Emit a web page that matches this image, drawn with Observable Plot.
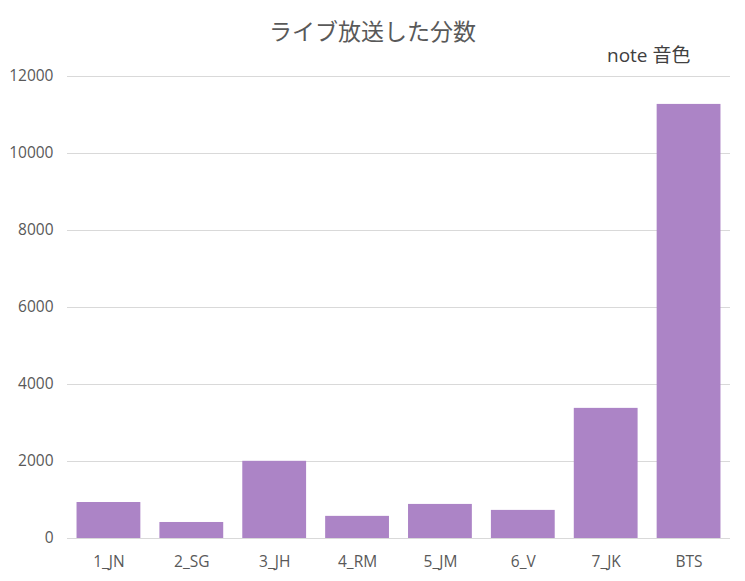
<!DOCTYPE html>
<html>
<head>
<meta charset="utf-8">
<script src="https://cdn.jsdelivr.net/npm/d3@7"></script>
<script src="https://cdn.jsdelivr.net/npm/@observablehq/plot@0.6"></script>
<style>
  html, body { margin: 0; padding: 0; background: #fff; }
  #wrap { position: relative; width: 745px; height: 581px; font-family: "Open Sans", "Noto Sans CJK JP", sans-serif; }
  #title { position: absolute; left: 0; width: 745px; top: 13px; text-align: center; font-size: 23px; color: #595959; font-family: "Noto Sans CJK JP", sans-serif; }
  #note { position: absolute; left: 607px; top: 40px; font-size: 19px; color: #404040; font-family: "Open Sans", "Noto Sans CJK JP", sans-serif; }
</style>
</head>
<body>
<div id="wrap">
  <div id="chart"></div>
  <div id="title">ライブ放送した分数</div>
  <div id="note">note 音色</div>
</div>
<script>
const categories = ["1_JN", "2_SG", "3_JH", "4_RM", "5_JM", "6_V", "7_JK", "BTS"];
const minutes = [935, 416, 2005, 575, 885, 730, 3380, 11275];
const yTicks = [0, 2000, 4000, 6000, 8000, 10000, 12000];

const data = categories.map((c, i) => ({ name: c, value: minutes[i] }));

const chart = Plot.plot({
  width: 745,
  height: 581,
  marginTop: 76,
  marginBottom: 43,
  marginLeft: 67,
  marginRight: 15,
  style: { fontFamily: "Open Sans, sans-serif", fontSize: "15.5px", color: "#595959", background: "transparent" },
  x: { domain: categories, paddingInner: 0.23, paddingOuter: 0.115, round: false, label: null, tickSize: 0, tickPadding: 17 },
  y: { domain: [0, 12000], ticks: yTicks, label: null, tickSize: 0, tickPadding: 14, tickFormat: d => String(d) },
  marks: [
    Plot.gridY(yTicks, { stroke: "#D9D9D9", strokeOpacity: 1 }),
    Plot.barY(data, { x: "name", y: "value", fill: "#AC84C6" }),
    Plot.ruleY([0], { stroke: "#D9D9D9" })
  ]
});
document.getElementById("chart").appendChild(chart);
</script>
</body>
</html>
